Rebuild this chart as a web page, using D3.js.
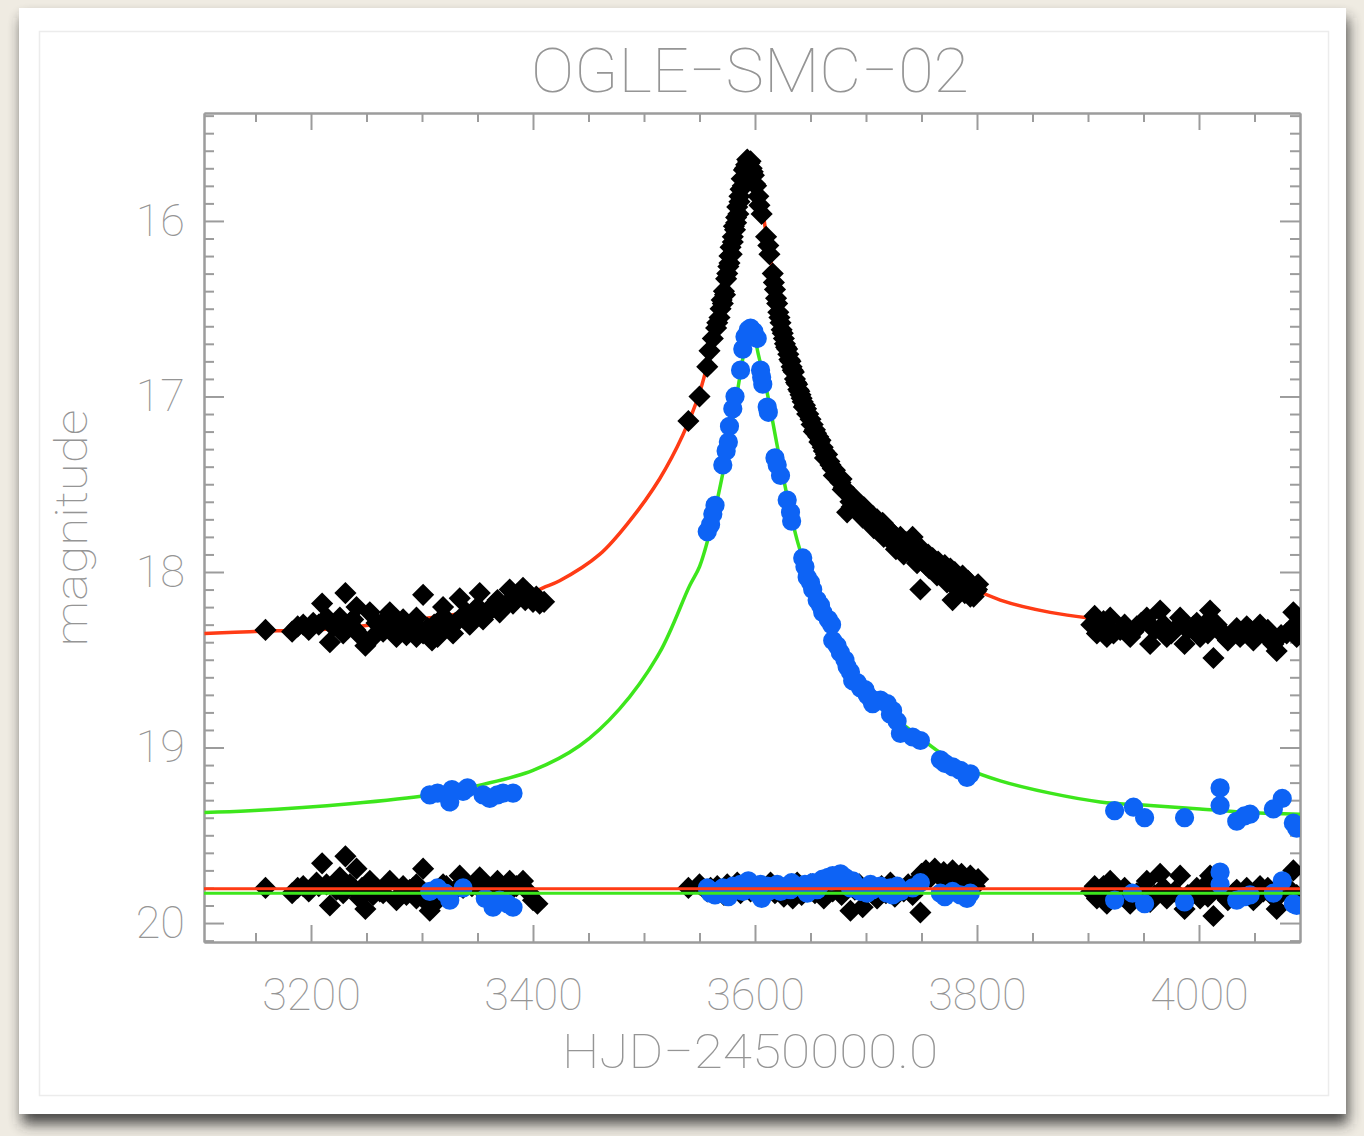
<!DOCTYPE html>
<html>
<head>
<meta charset="utf-8">
<script src="https://cdn.jsdelivr.net/npm/d3@7"></script>
<style>
  body { margin: 0; background: #efebe2; }
  svg { display: block; }
  text { font-family: Roboto, "Open Sans", sans-serif; font-weight: 100; fill: #959595; }
</style>
</head>
<body>
<div id="container"></div>
<script>
// tick labels
var xTicks = [3200, 3400, 3600, 3800, 4000];
var yTicks = [16, 17, 18, 19, 20];

// model curves [HJD-2450000, mag]
var redModel = [[3104,18.35],[3145,18.34],[3229,18.32],[3280,18.28],[3341,18.23],[3388,18.15],[3409,18.09],[3424,18.05],
  [3460,17.90],[3487,17.71],[3514,17.47],[3535,17.22],[3550,16.98],[3568,16.52],[3577,16.22],[3586,15.90],[3592,15.72],
  [3596,15.67],[3600,15.70],[3604,15.80],[3609,16.03],[3615,16.25],[3620,16.45],[3625,16.63],[3632,16.78],[3638,16.92],
  [3643,17.03],[3651,17.15],[3659,17.26],[3668,17.38],[3677,17.49],[3688,17.59],[3701,17.66],[3713,17.74],[3724,17.80],
  [3737,17.86],[3751,17.91],[3767,17.97],[3782,18.03],[3796,18.09],[3821,18.16],[3866,18.23],[3911,18.27],[4001,18.33],[4091,18.36]];

var greenModel = [[3104,19.37],[3145,19.36],[3235,19.32],[3307,19.27],[3355,19.21],[3400,19.13],[3442,18.99],[3478,18.78],
  [3514,18.46],[3541,18.08],[3550,17.97],[3559,17.78],[3570,17.47],[3580,17.13],[3586,16.90],[3591,16.72],[3595,16.64],
  [3599,16.66],[3603,16.76],[3611,16.98],[3620,17.28],[3629,17.57],[3638,17.82],[3650,18.05],[3661,18.20],[3670,18.33],
  [3681,18.47],[3692,18.60],[3706,18.71],[3722,18.81],[3742,18.91],[3767,19.03],[3791,19.12],[3821,19.19],[3866,19.26],
  [3911,19.31],[3956,19.33],[4001,19.35],[4046,19.37],[4091,19.38]];

// OGLE photometry (black diamonds)
var ogleObs = [[3159,18.33],[3183,18.34],[3188,18.31],[3193,18.30],[3198,18.33],[3202,18.29],[3207,18.30],[3210,18.18],
  [3214,18.26],[3217,18.40],[3220,18.31],[3226,18.26],[3229,18.35],[3231,18.12],[3235,18.29],[3238,18.27],[3240,18.33],
  [3241,18.20],[3244,18.36],[3249,18.42],[3253,18.23],[3256,18.37],[3259,18.29],[3262,18.31],[3265,18.34],[3267,18.27],
  [3271,18.23],[3276,18.30],[3277,18.37],[3280,18.33],[3283,18.27],[3286,18.36],[3289,18.31],[3292,18.29],[3295,18.26],
  [3295,18.37],[3298,18.33],[3301,18.13],[3301,18.35],[3305,18.32],[3309,18.39],[3311,18.30],[3314,18.29],[3314,18.37],
  [3319,18.26],[3319,18.20],[3322,18.27],[3325,18.32],[3328,18.35],[3330,18.29],[3334,18.15],[3337,18.26],[3340,18.23],
  [3343,18.30],[3346,18.25],[3350,18.20],[3352,18.12],[3355,18.27],[3358,18.24],[3361,18.22],[3364,18.19],[3368,18.16],
  [3370,18.23],[3375,18.19],[3379,18.10],[3382,18.18],[3385,18.15],[3391,18.09],[3393,18.16],[3397,18.13],[3400,18.17],
  [3403,18.14],[3406,18.18],[3410,18.17],
  [3540,17.14],[3550,17.00],[3557,16.83],[3559,16.74],[3562,16.67],[3565,16.61],[3566,16.58],[3568,16.55],[3569,16.50],
  [3570,16.45],[3571,16.47],[3572,16.40],[3573,16.42],[3574,16.33],[3575,16.30],[3576,16.26],[3577,16.20],[3577,16.24],
  [3578,16.15],[3579,16.19],[3580,16.09],[3580,16.12],[3581,16.03],[3582,16.05],[3583,15.98],[3583,16.01],[3584,15.92],
  [3585,15.96],[3586,15.86],[3586,15.89],[3587,15.82],[3588,15.76],[3589,15.80],[3590,15.71],[3591,15.70],[3592,15.68],
  [3593,15.65],[3594,15.66],[3595,15.67],[3596,15.66],[3597,15.70],[3598,15.72],[3599,15.74],[3600,15.79],[3601,15.80],
  [3603,15.86],[3604,15.91],[3606,15.96],
  [3610,16.09],[3612,16.14],[3613,16.19],
  [3616,16.30],[3617,16.35],[3618,16.39],[3619,16.44],[3620,16.47],[3621,16.52],[3622,16.55],[3623,16.58],[3624,16.62],
  [3625,16.64],[3626,16.67],[3627,16.70],[3628,16.72],[3629,16.73],[3630,16.76],[3631,16.79],[3632,16.80],[3633,16.83],
  [3634,16.85],[3635,16.86],[3636,16.90],[3637,16.92],[3638,16.93],[3639,16.96],[3640,16.97],[3641,16.99],[3642,17.01],
  [3643,17.03],[3644,17.06],[3645,17.05],[3646,17.07],[3647,17.10],[3648,17.10],[3650,17.13],[3651,17.16],[3652,17.16],
  [3653,17.20],[3654,17.19],[3655,17.21],[3657,17.23],[3658,17.26],[3659,17.25],[3661,17.29],[3662,17.31],[3663,17.35],
  [3664,17.33],[3665,17.33],[3667,17.37],[3668,17.39],[3670,17.41],[3671,17.45],[3672,17.42],[3673,17.45],[3675,17.46],
  [3677,17.49],[3678,17.47],[3679,17.53],[3680,17.52],[3682,17.54],[3683,17.66],[3684,17.55],[3686,17.60],[3687,17.63],
  [3688,17.57],[3690,17.61],[3692,17.64],[3694,17.62],[3696,17.66],[3697,17.69],[3698,17.63],[3700,17.69],[3702,17.66],
  [3704,17.71],[3706,17.68],[3707,17.75],[3708,17.73],[3710,17.70],[3713,17.76],[3715,17.72],[3716,17.80],[3717,17.78],
  [3719,17.75],[3722,17.82],[3724,17.78],[3726,17.81],[3727,17.87],[3729,17.84],[3731,17.80],[3733,17.86],[3734,17.90],
  [3736,17.83],[3738,17.88],[3740,17.84],[3742,17.80],[3745,17.89],[3746,17.95],[3748,17.93],[3749,18.10],[3750,17.87],
  [3752,17.91],[3754,17.96],[3756,17.90],[3757,17.98],[3758,17.95],[3760,17.92],[3762,17.99],[3764,18.02],[3765,17.94],
  [3767,17.97],[3769,18.01],[3771,17.96],[3773,18.06],[3774,18.02],[3776,17.98],[3778,18.05],[3778,18.16],[3780,18.00],
  [3781,18.09],[3783,18.04],[3785,18.07],[3787,18.02],[3789,18.12],[3790,18.08],[3792,18.05],[3794,18.12],[3794,18.14],
  [3796,18.09],[3797,18.14],[3799,18.11],[3800,18.10],[3801,18.07],
  [3903,18.30],[3906,18.25],[3908,18.35],[3911,18.31],[3914,18.28],[3917,18.37],[3920,18.26],[3923,18.35],[3929,18.33],
  [3933,18.30],[3938,18.37],[3941,18.34],[3944,18.31],[3948,18.29],[3953,18.26],[3956,18.41],[3960,18.33],[3965,18.22],
  [3968,18.30],[3971,18.37],[3975,18.35],[3978,18.33],[3983,18.26],[3987,18.41],[3990,18.33],[3995,18.31],[3998,18.29],
  [4001,18.37],[4005,18.30],[4008,18.35],[4010,18.22],[4013,18.49],[4016,18.30],[4019,18.33],[4022,18.36],[4026,18.39],
  [4031,18.35],[4034,18.32],[4037,18.37],[4040,18.35],[4043,18.31],[4046,18.33],[4049,18.39],[4052,18.36],[4055,18.30],
  [4058,18.35],[4062,18.33],[4067,18.41],[4070,18.45],[4074,18.36],[4079,18.35],[4082,18.33],[4085,18.23],[4088,18.37],[4090,18.30]];

// second band photometry (blue dots)
var blueObs = [[3307,19.27],[3314,19.26],[3325,19.31],[3327,19.24],[3337,19.25],[3341,19.23],[3355,19.27],[3361,19.29],
  [3368,19.27],[3373,19.26],[3382,19.26],
  [3557,17.77],[3560,17.73],[3562,17.67],[3564,17.62],[3571,17.39],[3574,17.31],[3576,17.26],[3577,17.17],[3580,17.07],
  [3582,17.00],[3587,16.85],[3589,16.73],[3591,16.66],[3594,16.62],[3596,16.61],[3599,16.63],[3602,16.67],[3605,16.85],
  [3606,16.89],[3607,16.93],[3611,17.06],[3612,17.09],[3618,17.35],[3620,17.39],[3623,17.45],[3629,17.59],[3632,17.66],
  [3633,17.71],[3643,17.92],[3645,17.97],[3647,18.03],[3650,18.06],[3652,18.10],[3656,18.16],[3659,18.19],[3661,18.23],
  [3666,18.27],[3669,18.30],[3670,18.39],[3674,18.42],[3677,18.46],[3681,18.50],[3683,18.54],[3686,18.57],[3688,18.62],
  [3692,18.63],[3695,18.66],[3699,18.67],[3701,18.70],[3704,18.72],[3706,18.75],[3713,18.73],[3719,18.75],[3722,18.81],
  [3724,18.79],[3728,18.85],[3731,18.92],[3742,18.94],[3749,18.96],[3767,19.07],[3771,19.09],[3778,19.11],[3785,19.13],
  [3791,19.17],[3794,19.15],
  [3924,19.36],[3941,19.34],[3951,19.40],[3987,19.40],[4019,19.23],[4019,19.33],[4034,19.42],[4041,19.39],[4046,19.38],
  [4067,19.35],[4075,19.29],[4085,19.43],[4088,19.46]];

// residuals, shifted to the bottom of the panel
var ogleResid = [[3159,19.80],[3183,19.83],[3188,19.80],[3193,19.79],[3198,19.82],[3205,19.77],[3207,19.79],[3210,19.66],
  [3214,19.78],[3217,19.90],[3223,19.81],[3226,19.74],[3229,19.83],[3231,19.62],[3235,19.78],[3238,19.80],[3241,19.69],
  [3244,19.86],[3246,19.80],[3249,19.92],[3253,19.76],[3256,19.84],[3259,19.80],[3262,19.82],[3265,19.83],[3271,19.76],
  [3277,19.87],[3280,19.84],[3283,19.79],[3286,19.84],[3289,19.81],[3292,19.80],[3295,19.78],[3295,19.86],[3301,19.69],
  [3301,19.86],[3307,19.93],[3311,19.82],[3314,19.81],[3314,19.87],[3319,19.78],[3322,19.79],[3325,19.83],[3330,19.81],
  [3334,19.73],[3337,19.80],[3340,19.78],[3345,19.79],[3352,19.74],[3355,19.82],[3358,19.81],[3361,19.80],[3368,19.76],
  [3370,19.80],[3379,19.76],[3382,19.80],[3385,19.79],[3391,19.76],[3397,19.83],[3400,19.87],[3404,19.89],
  [3540,19.80],[3550,19.78],[3557,19.82],[3560,19.80],[3563,19.83],[3566,19.79],[3569,19.81],[3572,19.84],[3575,19.78],
  [3578,19.82],[3581,19.80],[3584,19.77],[3587,19.83],[3590,19.80],[3593,19.78],[3596,19.82],[3599,19.80],[3603,19.84],
  [3606,19.79],[3610,19.81],[3614,19.77],[3618,19.83],[3622,19.80],[3626,19.85],[3630,19.79],[3634,19.86],[3638,19.77],
  [3642,19.84],[3646,19.80],[3650,19.78],[3654,19.83],[3658,19.81],[3662,19.86],[3666,19.79],[3670,19.82],[3674,19.78],
  [3678,19.84],[3682,19.80],[3686,19.93],[3690,19.81],[3694,19.78],[3697,19.91],[3702,19.80],[3706,19.83],[3710,19.86],
  [3714,19.79],[3718,19.83],[3722,19.77],[3726,19.85],[3730,19.80],[3734,19.82],[3738,19.78],[3742,19.84],[3746,19.76],
  [3749,19.94],[3750,19.72],[3754,19.70],[3758,19.74],[3762,19.69],[3766,19.73],[3770,19.71],[3774,19.76],[3778,19.70],
  [3782,19.74],[3786,19.72],[3790,19.77],[3794,19.73],[3798,19.79],[3801,19.75],
  [3903,19.82],[3906,19.79],[3908,19.86],[3911,19.81],[3914,19.79],[3917,19.89],[3920,19.76],[3923,19.85],[3929,19.82],
  [3933,19.80],[3938,19.89],[3944,19.83],[3948,19.82],[3953,19.76],[3956,19.88],[3960,19.84],[3965,19.72],[3968,19.80],
  [3971,19.86],[3978,19.82],[3983,19.73],[3987,19.92],[3990,19.84],[3995,19.83],[3998,19.80],[4001,19.86],[4005,19.79],
  [4008,19.85],[4010,19.73],[4013,19.96],[4019,19.82],[4022,19.84],[4026,19.87],[4031,19.83],[4034,19.81],[4037,19.85],
  [4043,19.80],[4046,19.83],[4049,19.87],[4052,19.85],[4055,19.79],[4058,19.82],[4062,19.80],[4067,19.85],[4070,19.92],
  [4074,19.83],[4079,19.82],[4082,19.81],[4085,19.70],[4088,19.84]];

var blueResid = [[3307,19.82],[3314,19.80],[3321,19.83],[3325,19.87],[3337,19.80],[3357,19.86],[3364,19.91],[3370,19.87],
  [3377,19.89],[3382,19.91],
  [3557,19.80],[3560,19.83],[3562,19.82],[3564,19.84],[3571,19.80],[3574,19.83],[3576,19.85],[3577,19.82],[3580,19.79],
  [3582,19.81],[3587,19.78],[3589,19.82],[3591,19.80],[3594,19.76],[3596,19.79],[3599,19.81],[3602,19.83],[3605,19.78],
  [3606,19.86],[3607,19.84],[3611,19.79],[3612,19.82],[3618,19.80],[3620,19.78],[3623,19.82],[3629,19.79],[3632,19.81],
  [3633,19.77],[3643,19.80],[3645,19.78],[3647,19.83],[3650,19.79],[3652,19.77],[3656,19.81],[3659,19.78],[3661,19.75],
  [3666,19.74],[3669,19.76],[3670,19.73],[3674,19.75],[3677,19.72],[3681,19.74],[3683,19.77],[3686,19.80],[3688,19.76],
  [3692,19.79],[3695,19.82],[3699,19.80],[3701,19.83],[3704,19.78],[3706,19.81],[3713,19.79],[3719,19.83],[3722,19.80],
  [3724,19.84],[3728,19.79],[3731,19.82],[3742,19.80],[3749,19.77],[3767,19.83],[3771,19.85],[3778,19.82],[3785,19.84],
  [3791,19.86],[3794,19.83],
  [3924,19.87],[3940,19.83],[3951,19.89],[3987,19.88],[4019,19.71],[4019,19.78],[4034,19.87],[4041,19.85],[4046,19.84],
  [4067,19.83],[4075,19.76],[4085,19.89],[4088,19.90]];

var redZero = 19.805, greenZero = 19.83;

var plotX0 = 204, plotX1 = 1300, plotY0 = 113, plotY1 = 942;
var plotW = plotX1 - plotX0, plotH = plotY1 - plotY0;
var axisColor = "#9c9c9c";

var svg = d3.select("#container")
    .append("svg")
    .attr("width", 1364)
    .attr("height", 1136);

var defs = svg.append("defs");
defs.append("filter").attr("id", "shadow")
    .attr("x", "-10%").attr("y", "-10%").attr("width", "120%").attr("height", "120%")
    .append("feGaussianBlur").attr("stdDeviation", 7);
// the scanned plot is a little soft
defs.append("filter").attr("id", "soft")
    .append("feGaussianBlur").attr("stdDeviation", 0.7);
defs.append("clipPath").attr("id", "plotclip")
    .append("rect").attr("width", plotW).attr("height", plotH);

// photo-card frame
svg.append("rect").attr("x", 22).attr("y", 18).attr("width", 1326).attr("height", 1106)
    .attr("fill", "#2a2a2a").attr("opacity", 0.85).attr("filter", "url(#shadow)");
svg.append("rect").attr("x", 19).attr("y", 8).attr("width", 1327).attr("height", 1106).attr("fill", "#fff");
svg.append("rect").attr("x", 39.5).attr("y", 31.5).attr("width", 1289).attr("height", 1064)
    .attr("fill", "none").attr("stroke", "#ececec").attr("stroke-width", 1.5);

var x = d3.scaleLinear().domain([3103.6, 4091]).range([0, plotW]);
var y = d3.scaleLinear().domain([15.385, 20.108]).range([0, plotH]);

var g = svg.append("g").attr("transform", "translate(" + plotX0 + "," + plotY0 + ")");

var xMinor = d3.range(3150, 4091, 50).filter(function(d) { return d % 200 !== 0; });
var yMinor = d3.range(154, 202).filter(function(i) { return i % 10 !== 0; }).map(function(i) { return i / 10; });

function styleAxis(sel) {
  sel.selectAll("path.domain").attr("stroke", axisColor).attr("stroke-width", 2);
  sel.selectAll(".tick line").attr("stroke", axisColor).attr("stroke-width", 2);
  sel.selectAll("text").attr("font-size", 45).attr("fill", "#a0a0a0")
      .attr("font-family", "Roboto, 'Open Sans', sans-serif").attr("font-weight", 100);
}

// bottom axis with labels
g.append("g")
    .attr("transform", "translate(0," + plotH + ")")
    .call(d3.axisBottom(x).tickValues(xTicks).tickSize(-17).tickSizeOuter(0).tickPadding(36).tickFormat(d3.format("d")))
    .call(styleAxis);
g.append("g")
    .attr("transform", "translate(0," + plotH + ")")
    .call(d3.axisBottom(x).tickValues(xMinor).tickSize(-9).tickSizeOuter(0).tickFormat(""))
    .call(styleAxis);
// top axis
g.append("g")
    .call(d3.axisTop(x).tickValues(xTicks).tickSize(-17).tickSizeOuter(0).tickFormat(""))
    .call(styleAxis);
g.append("g")
    .call(d3.axisTop(x).tickValues(xMinor).tickSize(-9).tickSizeOuter(0).tickFormat(""))
    .call(styleAxis);
// left axis with labels
g.append("g")
    .call(d3.axisLeft(y).tickValues(yTicks).tickSize(-20).tickSizeOuter(0).tickPadding(19).tickFormat(d3.format("d")))
    .call(styleAxis);
g.append("g")
    .call(d3.axisLeft(y).tickValues(yMinor).tickSize(-10).tickSizeOuter(0).tickFormat(""))
    .call(styleAxis);
// right axis
g.append("g")
    .attr("transform", "translate(" + plotW + ",0)")
    .call(d3.axisRight(y).tickValues(yTicks).tickSize(-20).tickSizeOuter(0).tickFormat(""))
    .call(styleAxis);
g.append("g")
    .attr("transform", "translate(" + plotW + ",0)")
    .call(d3.axisRight(y).tickValues(yMinor).tickSize(-10).tickSizeOuter(0).tickFormat(""))
    .call(styleAxis);

var plot = g.append("g").attr("clip-path", "url(#plotclip)")
    .append("g").attr("filter", "url(#soft)");

var line = d3.line()
    .x(function(d) { return x(d[0]); })
    .y(function(d) { return y(d[1]); })
    .curve(d3.curveCatmullRom.alpha(0.5));

plot.append("path").datum(redModel).attr("d", line)
    .attr("fill", "none").attr("stroke", "#ff3a12").attr("stroke-width", 3.5);
plot.append("path").datum(greenModel).attr("d", line)
    .attr("fill", "none").attr("stroke", "#3de61c").attr("stroke-width", 3.5);

var diamond = d3.symbol().type(d3.symbolSquare).size(245);
var dot = d3.symbol().type(d3.symbolCircle).size(290);

function drawDiamonds(data) {
  plot.append("g").selectAll("path")
      .data(data)
      .enter()
      .append("path")
      .attr("d", diamond)
      .attr("fill", "#000")
      .attr("transform", function(d) { return "translate(" + x(d[0]) + "," + y(d[1]) + ") rotate(45)"; });
}

function drawDots(data) {
  plot.append("g").selectAll("path")
      .data(data)
      .enter()
      .append("path")
      .attr("d", dot)
      .attr("fill", "#0a64f5")
      .attr("transform", function(d) { return "translate(" + x(d[0]) + "," + y(d[1]) + ")"; });
}

drawDiamonds(ogleObs);
drawDots(blueObs);
drawDiamonds(ogleResid);
drawDots(blueResid);

// zero lines of the residuals
plot.append("line")
    .attr("x1", 0).attr("x2", plotW)
    .attr("y1", y(greenZero)).attr("y2", y(greenZero))
    .attr("stroke", "#3de61c").attr("stroke-width", 3);
plot.append("line")
    .attr("x1", 0).attr("x2", plotW)
    .attr("y1", y(redZero)).attr("y2", y(redZero))
    .attr("stroke", "#ff3a12").attr("stroke-width", 3);

// titles
svg.append("text")
    .attr("x", 750).attr("y", 92)
    .attr("text-anchor", "middle")
    .attr("font-size", 62)
    .attr("textLength", 438).attr("lengthAdjust", "spacingAndGlyphs")
    .text("OGLE\u2212SMC\u221202");

svg.append("text")
    .attr("x", 750).attr("y", 1068)
    .attr("text-anchor", "middle")
    .attr("font-size", 48)
    .attr("textLength", 376).attr("lengthAdjust", "spacingAndGlyphs")
    .text("HJD\u22122450000.0");

svg.append("text")
    .attr("transform", "translate(87,528) rotate(-90)")
    .attr("text-anchor", "middle")
    .attr("font-size", 44)
    .attr("textLength", 237).attr("lengthAdjust", "spacingAndGlyphs")
    .text("magnitude");
</script>
</body>
</html>
